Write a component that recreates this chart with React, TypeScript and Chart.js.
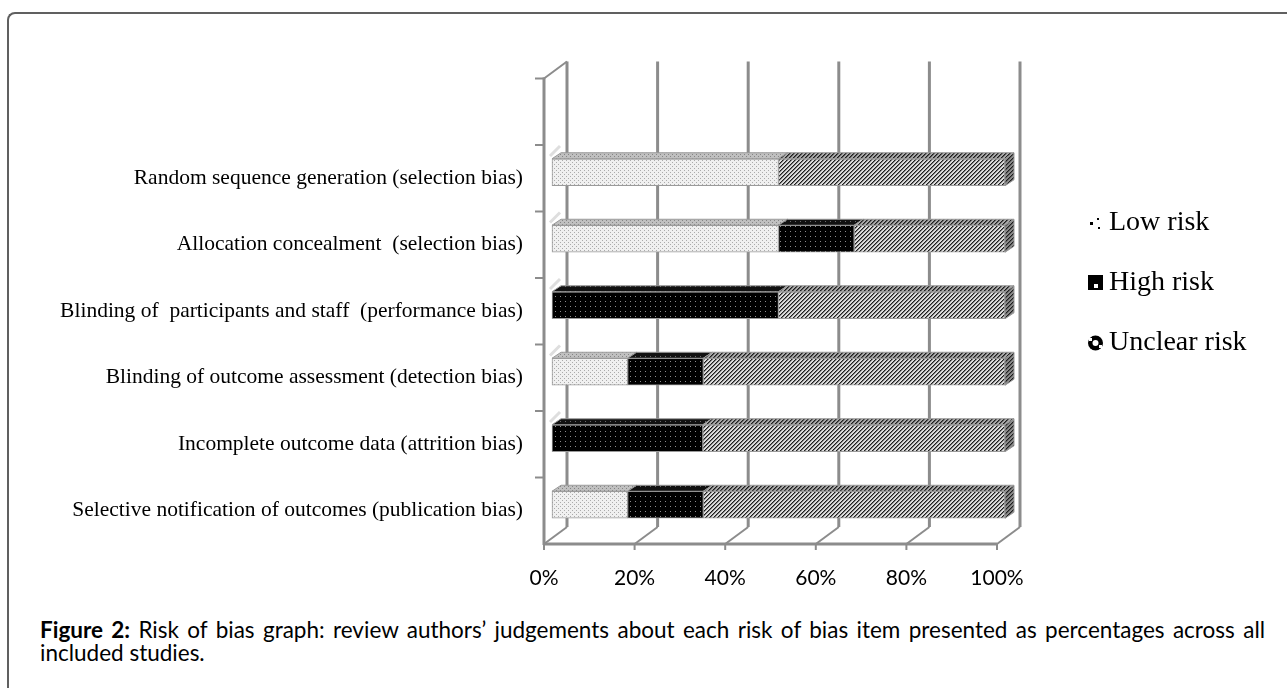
import React, { useEffect, useRef } from 'react';
import { Chart, registerables } from 'chart.js';

Chart.register(...registerables);

const categories = [
  'Random sequence generation (selection bias)',
  'Allocation concealment  (selection bias)',
  'Blinding of  participants and staff  (performance bias)',
  'Blinding of outcome assessment (detection bias)',
  'Incomplete outcome data (attrition bias)',
  'Selective notification of outcomes (publication bias)',
];
const seriesNames = ['Low risk', 'High risk', 'Unclear risk'];
const lowRisk = [50, 50, 0, 16.7, 0, 16.7];
const highRisk = [0, 16.7, 50, 16.7, 33.3, 16.7];
const unclearRisk = [50, 33.3, 50, 66.6, 66.7, 66.6];
const xTicks = [0, 20, 40, 60, 80, 100];

const captionBold = 'Figure 2:';
const captionLine1 = ' Risk of bias graph: review authors’ judgements about each risk of bias item presented as percentages across all';
const captionLine2 = 'included studies.';

const WALL_DX = 23;
const WALL_DY = 17;
const BAR_DX = 8;
const BAR_DY = 6;
const FACE_DX = 9;
const FACE_DY = 6;
const AXIS_COLOR = '#8c8c8c';

function makePattern(kind: string): CanvasPattern | string {
  const c = document.createElement('canvas');
  const size = kind.startsWith('high') ? 5 : 4;
  c.width = size;
  c.height = size;
  const g = c.getContext('2d');
  if (!g) return '#999';
  const px = (x: number, y: number, col: string) => {
    g.fillStyle = col;
    g.fillRect(x, y, 1, 1);
  };
  if (kind === 'low') {
    g.fillStyle = '#f0f0f0';
    g.fillRect(0, 0, size, size);
    px(0, 0, '#ababab');
    px(2, 2, '#ababab');
  } else if (kind === 'lowTop') {
    g.fillStyle = '#c0c0c0';
    g.fillRect(0, 0, size, size);
    px(0, 0, '#858585');
    px(2, 2, '#858585');
  } else if (kind === 'high') {
    g.fillStyle = '#000';
    g.fillRect(0, 0, size, size);
    px(2, 2, '#8c8c8c');
  } else if (kind === 'highTop') {
    g.fillStyle = '#111';
    g.fillRect(0, 0, size, size);
    px(2, 2, '#6a6a6a');
  } else {
    const light = kind === 'unclear' ? '#dcdcdc' : kind === 'unclearTop' ? '#a8a8a8' : '#8a8a8a';
    const mid = kind === 'unclear' ? '#7a7a7a' : '#5a5a5a';
    for (let y = 0; y < size; y++) {
      for (let x = 0; x < size; x++) {
        const m = (x + y) % 4;
        px(x, y, m === 0 ? '#1e1e1e' : m === 1 ? mid : light);
      }
    }
  }
  const p = g.createPattern(c, 'repeat');
  return p || '#999';
}

const depthPlugin = {
  id: 'depth3d',
  beforeDatasetsDraw(chart: any) {
    const { ctx } = chart;
    const xs = chart.scales.x;
    const ys = chart.scales.y;
    const band = (ys.bottom - ys.top) / categories.length;
    const topY = ys.top - band;
    const bottom = ys.bottom;
    const left = xs.getPixelForValue(0);
    const right = xs.getPixelForValue(100);
    const line = (x1: number, y1: number, x2: number, y2: number) => {
      ctx.beginPath();
      ctx.moveTo(x1, y1);
      ctx.lineTo(x2, y2);
      ctx.stroke();
    };
    ctx.save();
    ctx.strokeStyle = AXIS_COLOR;
    ctx.lineCap = 'butt';
    ctx.lineWidth = 3;
    for (const v of xTicks) {
      const px = xs.getPixelForValue(v) + WALL_DX;
      line(px, topY - WALL_DY, px, bottom - WALL_DY);
    }
    ctx.lineWidth = 2;
    for (const v of xTicks) {
      const px = xs.getPixelForValue(v);
      line(px, bottom, px + WALL_DX, bottom - WALL_DY);
    }
    line(left, topY, left + WALL_DX, topY - WALL_DY);
    ctx.strokeStyle = '#dedede';
    ctx.lineWidth = 3;
    for (let k = 1; k < categories.length; k++) {
      const yy = topY + k * band;
      line(left + 6, yy + 11, left + 16, yy + 1);
    }
    ctx.strokeStyle = AXIS_COLOR;
    ctx.lineWidth = 3;
    line(left, topY - 1, left, bottom + 1);
    ctx.lineWidth = 2;
    for (let k = 0; k <= categories.length; k++) {
      const yy = topY + k * band;
      line(left - 9, yy, left, yy);
    }
    ctx.lineWidth = 3;
    line(left, bottom, right, bottom);
    ctx.lineWidth = 2;
    for (const v of xTicks) {
      const px = xs.getPixelForValue(v);
      line(px, bottom, px, bottom + 6);
    }
    ctx.restore();
    ctx.save();
    ctx.translate(BAR_DX, -BAR_DY);
  },
  afterDatasetsDraw(chart: any) {
    const { ctx } = chart;
    const tops = [makePattern('lowTop'), makePattern('highTop'), makePattern('unclearTop')];
    const side = makePattern('unclearSide');
    const n = chart.data.datasets.length;
    for (let d = 0; d < n; d++) {
      const meta = chart.getDatasetMeta(d);
      meta.data.forEach((el: any) => {
        const p = el.getProps(['x', 'y', 'base', 'height'], true);
        const x0 = Math.min(p.base, p.x);
        const x1 = Math.max(p.base, p.x);
        if (x1 - x0 < 0.5) return;
        const t = p.y - p.height / 2;
        const b = p.y + p.height / 2;
        ctx.save();
        ctx.fillStyle = tops[d];
        ctx.strokeStyle = '#9a9a9a';
        ctx.lineWidth = 1;
        ctx.beginPath();
        ctx.moveTo(x0, t);
        ctx.lineTo(x1, t);
        ctx.lineTo(x1 + FACE_DX, t - FACE_DY);
        ctx.lineTo(x0 + FACE_DX, t - FACE_DY);
        ctx.closePath();
        ctx.fill();
        ctx.stroke();
        if (d === n - 1) {
          ctx.fillStyle = side;
          ctx.beginPath();
          ctx.moveTo(x1, t);
          ctx.lineTo(x1 + FACE_DX, t - FACE_DY);
          ctx.lineTo(x1 + FACE_DX, b - FACE_DY);
          ctx.lineTo(x1, b);
          ctx.closePath();
          ctx.fill();
          ctx.stroke();
        }
        ctx.restore();
      });
    }
    ctx.restore();
  },
  afterDraw(chart: any) {
    const { ctx } = chart;
    const names = chart.data.datasets.map((ds: any) => ds.label);
    const textX = 1109;
    const ys = [223, 283, 343];
    ctx.save();
    ctx.fillStyle = '#000';
    ctx.font = '28px "Liberation Serif"';
    ctx.textBaseline = 'middle';
    ctx.textAlign = 'left';
    names.forEach((nm: string, i: number) => {
      ctx.fillText(nm, textX, ys[i]);
    });
    ctx.fillStyle = '#000';
    ctx.fillRect(1090, ys[0] - 1, 3, 3);
    ctx.fillRect(1097, ys[0] - 5, 2, 2);
    ctx.fillRect(1098, ys[0] + 4, 2, 2);
    ctx.fillRect(1088, ys[1] - 8, 15, 15);
    ctx.fillStyle = '#fff';
    ctx.fillRect(1094, ys[1] + 1, 4, 4);
    ctx.fillStyle = '#000';
    ctx.beginPath();
    ctx.arc(1095.5, ys[2], 7.5, 0, Math.PI * 2);
    ctx.fill();
    ctx.fillStyle = '#fff';
    ctx.beginPath();
    ctx.arc(1095.5, ys[2], 3, 0, Math.PI * 2);
    ctx.fill();
    ctx.fillRect(1089, ys[2] - 5, 3, 3);
    ctx.fillRect(1099, ys[2] + 2, 3, 3);
    ctx.restore();
  },
};

export default function App() {
  const ref = useRef<HTMLCanvasElement>(null);
  useEffect(() => {
    if (!ref.current) return;
    const fills = [makePattern('low'), makePattern('high'), makePattern('unclear')];
    const values = [lowRisk, highRisk, unclearRisk];
    const chart = new Chart(ref.current, {
      type: 'bar',
      data: {
        labels: categories,
        datasets: seriesNames.map((name, i) => ({
          label: name,
          data: values[i],
          backgroundColor: fills[i] as any,
          borderColor: '#9a9a9a',
          borderWidth: 1,
          borderSkipped: false,
          barThickness: 27,
          clip: false as any,
        })),
      },
      options: {
        indexAxis: 'y',
        animation: false,
        responsive: false,
        devicePixelRatio: 1,
        layout: { padding: { left: 0, right: 290, top: 145, bottom: 0 } },
        plugins: {
          legend: { display: false },
          tooltip: { enabled: false },
        },
        scales: {
          x: {
            stacked: true,
            min: 0,
            max: 100,
            afterFit: (s: any) => {
              s.height = 56;
            },
            ticks: {
              stepSize: 20,
              callback: (v: any) => v + '%',
              font: { family: 'Lato', size: 21 },
              color: '#000',
              padding: 14,
              maxRotation: 0,
              autoSkip: false,
            },
            grid: { display: false },
            border: { display: false },
          },
          y: {
            stacked: true,
            afterFit: (s: any) => {
              s.width = 544;
            },
            ticks: {
              font: { family: 'Liberation Serif', size: 21.5 },
              color: '#000',
              padding: 13,
              autoSkip: false,
            },
            grid: { display: false },
            border: { display: false },
          },
        },
      },
      plugins: [depthPlugin],
    } as any);
    return () => chart.destroy();
  }, []);

  const captionStyle: React.CSSProperties = {
    position: 'absolute',
    left: 40,
    width: 1225,
    fontFamily: 'Lato',
    fontSize: 22.5,
    lineHeight: '23px',
    color: '#000',
  };

  return (
    <div
      style={{
        position: 'fixed',
        left: 0,
        top: 0,
        width: 1287,
        height: 688,
        overflow: 'hidden',
        background: '#fff',
      }}
    >
      <div
        style={{
          position: 'absolute',
          left: 7,
          top: 12,
          width: 1400,
          height: 800,
          borderTop: '2px solid #606060',
          borderLeft: '2px solid #606060',
          borderTopLeftRadius: 8,
        }}
      />
      <canvas
        ref={ref}
        width={1287}
        height={600}
        style={{ position: 'absolute', left: 0, top: 0, width: 1287, height: 600 }}
      />
      <div style={{ ...captionStyle, top: 618, textAlign: 'justify', textAlignLast: 'justify' }}>
        <b>{captionBold}</b>
        {captionLine1}
      </div>
      <div style={{ ...captionStyle, top: 641, textAlign: 'left' }}>{captionLine2}</div>
    </div>
  );
}
